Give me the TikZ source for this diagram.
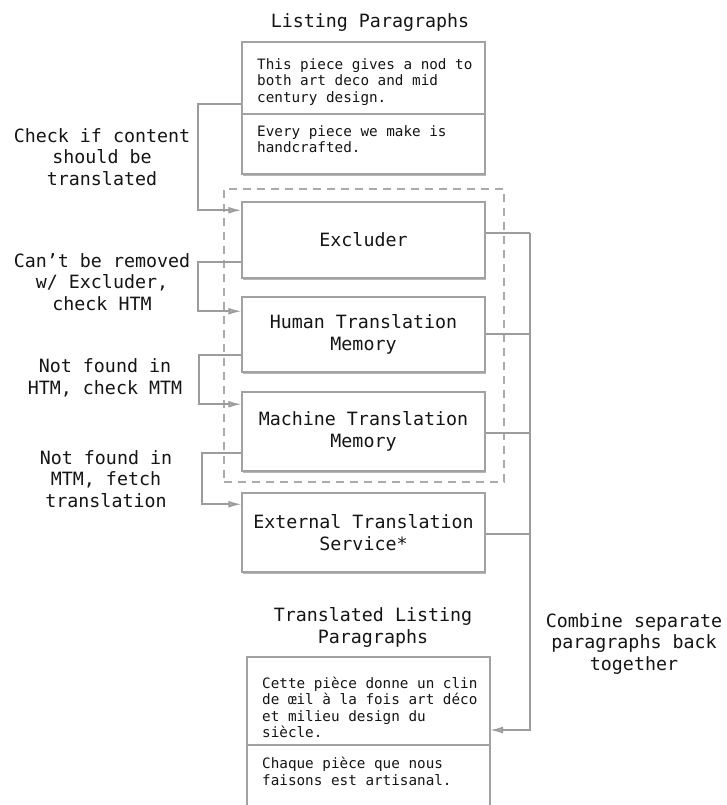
\documentclass[tikz,border=0pt]{standalone}
\usepackage{fontspec}
\setmonofont{DejaVu Sans Mono}
\usetikzlibrary{arrows.meta,shadows}
\definecolor{linegray}{HTML}{9C9C9C}
\definecolor{boxgray}{HTML}{A2A2A2}
\definecolor{dashgray}{HTML}{ABABAB}
\definecolor{txt}{HTML}{151515}
\tikzset{
  big/.style={font=\ttfamily\fontsize{18.3}{21.5}\selectfont, text=txt, align=center, inner sep=0pt},
  small/.style={font=\ttfamily\fontsize{14.3}{16.3}\selectfont, text=txt, align=left, inner sep=0pt, anchor=west},
  stepbox/.style={draw=boxgray, line width=1.5pt, fill=white, minimum width=243pt, inner sep=0pt,
    drop shadow={shadow xshift=1pt, shadow yshift=-2pt, fill=black!40, opacity=.7}},
  conn/.style={draw=linegray, line width=1.6pt},
  arr/.style={conn, -{Latex[length=13pt,width=7pt,fill=linegray!80]}},
}
\begin{document}
\begin{tikzpicture}[x=1pt,y=-1pt]
\useasboundingbox (0,0) rectangle (726,805);
\clip (0,0) rectangle (726,805);
\fill[white] (0,0) rectangle (726,805);

% group
\node[draw=dashgray, line width=1.5pt, dash pattern=on 8pt off 6pt, minimum width=280pt, minimum height=293pt, inner sep=0pt] (grp) at (364,335.5) {};

% titles
\node[big] (t1) at (370,23) {Listing Paragraphs};
\node[big] (t2) at (373,627.5) {Translated Listing\\Paragraphs};

% top box
\node[stepbox, minimum height=132pt] (lp) at (363.5,108) {};
\draw[draw=boxgray, line width=1.5pt] ([yshift=-6pt]lp.west) -- ([yshift=-6pt]lp.east);
\node[small] (lp1) at (257,82) {This piece gives a nod to\\both art deco and mid\\century design.};
\node[small] (lp2) at (257,139) {Every piece we make is\\handcrafted.};

% steps
\node[stepbox, minimum height=76pt, big] (exc) at (363.5,240) {Excluder};
\node[stepbox, minimum height=75pt, big] (htm) at (363.5,334.5) {Human Translation\\Memory};
\node[stepbox, minimum height=79pt, big] (mtm) at (363.5,431.5) {Machine Translation\\Memory};
\node[stepbox, minimum height=79pt, big] (ets) at (363.5,532.5) {External Translation\\Service*};

% bottom box (cut by the page edge)
\node[minimum width=243pt, minimum height=150pt, inner sep=0pt] (tlp) at (368.5,732) {};
\fill[black!40, opacity=.7] ([xshift=1pt,yshift=-2pt]tlp.south west) rectangle ([xshift=1pt,yshift=-2pt]tlp.north east);
\fill[white] (tlp.south west) rectangle (tlp.north east);
\draw[draw=boxgray, line width=1.5pt] (tlp.south west) -- (tlp.north west) -- (tlp.north east) -- (tlp.south east);
\draw[draw=boxgray, line width=1.5pt] ([yshift=-13pt]tlp.west) -- ([yshift=-13pt]tlp.east);
\node[small] (tl1) at (262,707.5) {Cette pièce donne un clin\\de œil à la fois art déco\\et milieu design du\\siècle.};
\node[small] (tl2) at (262,771.5) {Chaque pièce que nous\\faisons est artisanal.};

% left connectors
\draw[arr] ([yshift=4pt]lp.west) -- ++(-43,0) |- ([yshift=-9pt]exc.north west);
\draw[arr] ([yshift=17pt]exc.south west) -- ++(-43,0) |- ([yshift=-15pt]htm.north west);
\draw[arr] ([yshift=18pt]htm.south west) -- ++(-42,0) |- ([yshift=-13pt]mtm.north west);
\draw[arr] ([yshift=19pt]mtm.south west) -- ++(-39,0) |- ([yshift=-12pt]ets.north west);

% left labels
\node[big] (l1) at (102,157) {Check if content\\should be\\translated};
\node[big] (l2) at (102,282) {Can’t be removed\\w/ Excluder,\\check HTM};
\node[big] (l3) at (105,378) {Not found in\\HTM, check MTM};
\node[big] (l4) at (106,479) {Not found in\\MTM, fetch\\translation};

% right connectors
\draw[conn] ([yshift=7pt]exc.east) -- ++(44.5,0) coordinate (bustop);
\draw[conn] ([yshift=0.5pt]htm.east) -- ([yshift=0.5pt]htm.east -| bustop);
\draw[conn] ([yshift=-1.5pt]mtm.east) -- ([yshift=-1.5pt]mtm.east -| bustop);
\draw[conn] ([yshift=-1.5pt]ets.east) -- ([yshift=-1.5pt]ets.east -| bustop);
\draw[arr] (bustop) |- ([yshift=2pt]tlp.east);

\node[big] (l5) at (634,644) {Combine separate\\paragraphs back\\together};
\end{tikzpicture}
\end{document}
